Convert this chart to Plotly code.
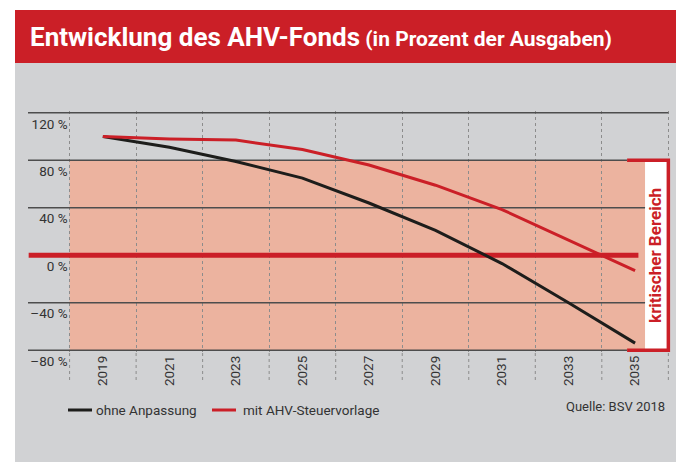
import plotly.graph_objects as go

# ---- data ----
years = [2019, 2021, 2023, 2025, 2027, 2029, 2031, 2033, 2035]
ohne_anpassung = [100, 91, 79, 65, 44, 21, -7, -40, -74]
mit_ahv_steuervorlage = [100, 98, 97, 89, 76, 59, 38.5, 13, -13]
series_names = ["ohne Anpassung", "mit AHV-Steuervorlage"]
grid_years = [2018, 2020, 2022, 2024, 2026, 2028, 2030, 2032, 2034, 2036]
y_ticks = [120, 80, 40, 0, -40, -80]
y_ticktext = ["120 %", "80 %", "40 %", "0 %", "–40 %", "–80 %"]
crit_low, crit_high = -80, 80

# ---- layout geometry (page offset of the plot div = 8px body margin) ----
OFF = 8
WIDTH, HEIGHT = 684 - OFF, 462 - OFF
L, R, T, B = 20, 9, 103, 110
PW, PH = WIDTH - L - R, HEIGHT - T - B
xr = [2016.75, 2036.2]
yr = [-81.5, 121.5]

def pxp(x):
    """page pixel x -> paper fraction"""
    return (x - OFF - L) / PW

def pyp(y):
    """page pixel y -> paper fraction"""
    return (T + PH - (y - OFF)) / PH

RED = "#cb1f27"
BLACK = "#1d1d1b"
GRAY_BG = "#d1d2d4"
ORANGE = "#ecb39f"
GRID = "#4d4d4d"
DOT = "#8c8c8c"
TXT = "#333333"
FONT = "Roboto, 'Open Sans', sans-serif"
colors = [BLACK, RED]

fig = go.Figure()
for name, vals, c in zip(series_names, [ohne_anpassung, mit_ahv_steuervorlage], colors):
    fig.add_trace(go.Scatter(x=years, y=vals, mode="lines", name=name,
                             line=dict(color=c, width=3), showlegend=False))

shapes = []
# gray panel & red title band
shapes.append(dict(type="rect", xref="paper", yref="paper", x0=pxp(15), x1=pxp(690),
                   y0=pyp(470), y1=pyp(63), fillcolor=GRAY_BG, line_width=0, layer="below"))
shapes.append(dict(type="rect", xref="paper", yref="paper", x0=pxp(15), x1=pxp(690),
                   y0=pyp(63), y1=pyp(10), fillcolor=RED, line_width=0, layer="below"))
# dotted extensions of vertical grid below plot
for gy in grid_years:
    shapes.append(dict(type="line", xref="x", yref="paper", x0=gy, x1=gy, y0=pyp(380), y1=0,
                       line=dict(color=DOT, width=1, dash="dot"), layer="below"))
# critical area
shapes.append(dict(type="rect", xref="x", yref="y", x0=grid_years[0], x1=2035.3,
                   y0=crit_low, y1=crit_high, fillcolor=ORANGE, line_width=0, layer="below"))
shapes.append(dict(type="rect", xref="x", yref="y", x0=2035.3, x1=2035.96,
                   y0=crit_low, y1=crit_high, fillcolor="white", line_width=0, layer="between"))
# horizontal grid lines
grid_ends = {120: 2036.0, 80: 2034.76, 40: 2035.3, -40: 2035.3, -80: 2034.76}
for yv in y_ticks:
    if yv == 0:
        continue
    shapes.append(dict(type="line", xref="x", yref="y", x0=xr[0], x1=grid_ends[yv], y0=yv, y1=yv,
                       line=dict(color=GRID, width=1.5), layer="between"))
# thick zero line
shapes.append(dict(type="line", xref="x", yref="y", x0=xr[0] + 0.02, x1=2035.1, y0=0, y1=0,
                   line=dict(color=RED, width=5), layer="between"))
# bracket
shapes.append(dict(type="path", xref="x", yref="y",
                   path=f"M 2034.76,{crit_high} H 2036.0 V {crit_low} H 2034.76",
                   line=dict(color=RED, width=3.5), layer="between"))

annotations = [
    dict(xref="paper", yref="paper", x=pxp(28), y=pyp(37), xanchor="left", yanchor="middle",
         showarrow=False,
         text="<b>Entwicklung des AHV-Fonds</b><span style='font-size:21px'><b> (in Prozent der Ausgaben)</b></span>",
         font=dict(family=FONT, size=26, color="white")),
    dict(xref="x", yref="y", x=2035.62, y=0, textangle=-90, showarrow=False,
         text="<b>kritischer Bereich</b>", font=dict(family=FONT, size=17, color=RED)),
    dict(xref="paper", yref="paper", x=pxp(667), y=pyp(406), xanchor="right", yanchor="middle",
         showarrow=False, text="Quelle: BSV 2018", font=dict(family=FONT, size=13, color=TXT)),
]

# custom legend (line sample + label)
legend_items = [(68, 92, 94), (212, 236, 241)]
for (lx0, lx1, tx), name, c in zip(legend_items, series_names, colors):
    shapes.append(dict(type="line", xref="paper", yref="paper", x0=pxp(lx0), x1=pxp(lx1),
                       y0=pyp(410), y1=pyp(410), line=dict(color=c, width=3), layer="above"))
    annotations.append(dict(xref="paper", yref="paper", x=pxp(tx), y=pyp(410), xanchor="left",
                            yanchor="middle", showarrow=False, text=name,
                            font=dict(family=FONT, size=13.5, color=TXT)))

fig.update_layout(
    width=WIDTH, height=HEIGHT,
    margin=dict(l=L, r=R, t=T, b=B, pad=0, autoexpand=False),
    paper_bgcolor="white", plot_bgcolor="rgba(0,0,0,0)",
    font=dict(family=FONT, size=13, color=TXT),
    shapes=shapes, annotations=annotations,
    showlegend=False,
    xaxis=dict(range=xr, tickmode="array", tickvals=years, ticktext=[str(y) for y in years],
               tickangle=-90, showgrid=False, zeroline=False, showline=False, ticks="",
               automargin=False, tickfont=dict(size=13.5, color=TXT),
               minor=dict(tickmode="array", tickvals=grid_years, showgrid=True,
                          gridcolor=DOT, gridwidth=1, griddash="dot", ticks="")),
    yaxis=dict(range=yr, tickmode="array", tickvals=y_ticks, ticktext=y_ticktext,
               anchor="free", position=(grid_years[0] - xr[0]) / (xr[1] - xr[0]),
               showgrid=False, zeroline=False, showline=False, ticks="", automargin=False,
               ticklabelshift=11, ticklabelstandoff=2, tickfont=dict(size=13.5, color=TXT)),
)

fig.write_html("out.html")
